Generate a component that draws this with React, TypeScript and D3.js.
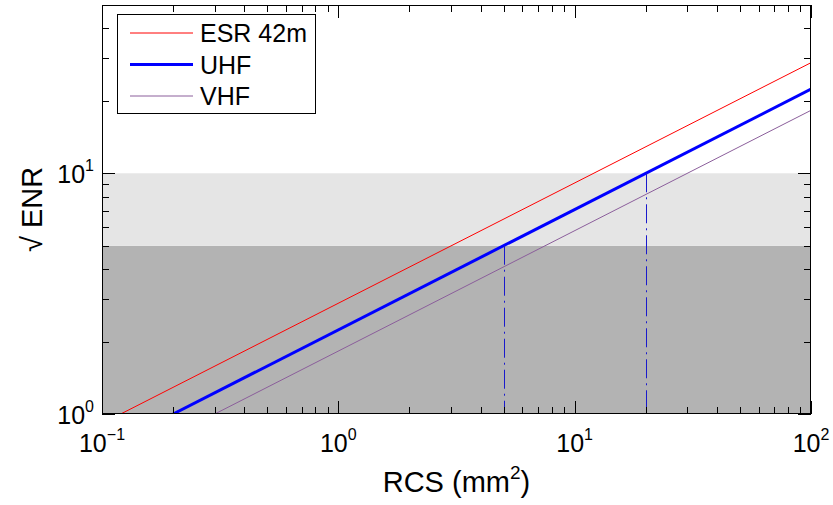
import React from "react";
import * as d3 from "d3";

const W = 833;
const H = 505;
const M = { left: 102, right: 811, top: 5, bottom: 414 };

const xDomain = [0.1, 100];
const yDomain = [1, 50];

const xMajor = [0.1, 1, 10, 100];
const xMajorExp = ["\u22121", "0", "1", "2"];
const yMajor = [1, 10];
const yMajorExp = ["0", "1"];
const minorMult = [2, 3, 4, 5, 6, 7, 8, 9];

const seriesNames = ["ESR 42m", "UHF", "VHF"];
const seriesColors = ["#ff0000", "#0000ff", "#8b5e9b"];
const seriesWidths = [1, 3, 1];
const rcsESR = [0.12, 100];
const enrESR = [1, 28.8];
const rcsUHF = [0.2, 100];
const enrUHF = [1, 22.36];
const rcsVHF = [0.3, 100];
const enrVHF = [1, 18.26];

const bandLow = [1, 5];
const bandHigh = [5, 10];
const markRcs = [5, 20];
const markEnr = [5, 10];

const FONT = "'Liberation Sans', Arial, Helvetica, sans-serif";

export default function App() {
  const x = d3.scaleLog().domain(xDomain).range([M.left, M.right]);
  const y = d3.scaleLog().domain(yDomain).range([M.bottom, M.top]);
  const line = d3
    .line<[number, number]>()
    .x((d) => x(d[0]))
    .y((d) => y(d[1]));

  const series = [
    rcsESR.map((r, i) => [r, enrESR[i]] as [number, number]),
    rcsUHF.map((r, i) => [r, enrUHF[i]] as [number, number]),
    rcsVHF.map((r, i) => [r, enrVHF[i]] as [number, number]),
  ];

  const xMinor: number[] = [];
  for (let d = 0; d < 3; d++) {
    minorMult.forEach((m) => xMinor.push(xMajor[d] * m));
  }
  const yMinor: number[] = [];
  minorMult.forEach((m) => yMinor.push(m));
  [2, 3, 4].forEach((m) => yMinor.push(10 * m));

  const MAJ = 13;
  const MIN = 7;

  const ticks: JSX.Element[] = [];
  xMinor.forEach((v, i) => {
    const px = Math.round(x(v)) + 0.5;
    ticks.push(<line key={"xb" + i} x1={px} x2={px} y1={M.bottom} y2={M.bottom - MIN} />);
    ticks.push(<line key={"xt" + i} x1={px} x2={px} y1={M.top} y2={M.top + MIN} />);
  });
  xMajor.forEach((v, i) => {
    const px = Math.round(x(v)) + 0.5;
    ticks.push(<line key={"xB" + i} x1={px} x2={px} y1={M.bottom} y2={M.bottom - MAJ} />);
    ticks.push(<line key={"xT" + i} x1={px} x2={px} y1={M.top} y2={M.top + MAJ} />);
  });
  yMinor.forEach((v, i) => {
    const py = Math.round(y(v)) + 0.5;
    ticks.push(<line key={"yl" + i} x1={M.left} x2={M.left + MIN} y1={py} y2={py} />);
    ticks.push(<line key={"yr" + i} x1={M.right} x2={M.right - MIN} y1={py} y2={py} />);
  });
  yMajor.forEach((v, i) => {
    const py = Math.round(y(v)) + 0.5;
    ticks.push(<line key={"yL" + i} x1={M.left} x2={M.left + MAJ} y1={py} y2={py} />);
    ticks.push(<line key={"yR" + i} x1={M.right} x2={M.right - MAJ} y1={py} y2={py} />);
  });

  const leg = { x: 117, y: 14, w: 198, h: 99 };

  return (
    <svg
      width={W}
      height={H}
      style={{ position: "absolute", left: 0, top: 0, background: "#fff" }}
      fontFamily={FONT}
    >
      <defs>
        <clipPath id="plot">
          <rect x={M.left} y={M.top} width={M.right - M.left} height={M.bottom - M.top} />
        </clipPath>
      </defs>
      <rect x={0} y={0} width={W} height={H} fill="#fff" />
      <rect
        x={M.left}
        y={y(bandLow[1])}
        width={M.right - M.left}
        height={y(bandLow[0]) - y(bandLow[1])}
        fill="#b3b3b3"
      />
      <rect
        x={M.left}
        y={y(bandHigh[1])}
        width={M.right - M.left}
        height={y(bandHigh[0]) - y(bandHigh[1])}
        fill="#e5e5e5"
      />
      <g clipPath="url(#plot)">
        {series.map((s, i) => (
          <path
            key={i}
            d={line(s) || ""}
            fill="none"
            stroke={seriesColors[i]}
            strokeWidth={seriesWidths[i]}
          />
        ))}
        {markRcs.map((r, i) => {
          const px = Math.round(x(r)) + 0.5;
          return (
            <line
              key={"m" + i}
              x1={px}
              x2={px}
              y1={y(markEnr[i])}
              y2={M.bottom}
              stroke="#1a1acc"
              strokeWidth={1}
              strokeDasharray="19,5,2,5"
            />
          );
        })}
      </g>
      <g stroke="#000" strokeWidth={1}>
        {ticks}
      </g>
      <rect
        x={M.left + 0.5}
        y={M.top + 0.5}
        width={M.right - M.left - 1}
        height={M.bottom - M.top - 1}
        fill="none"
        stroke="#000"
        strokeWidth={1}
      />
      {xMajor.map((v, i) => (
        <text key={"xl" + i} x={x(v)} y={452} textAnchor="middle" fontSize={25} fill="#000">
          10
          <tspan dy={-12} fontSize={16}>
            {xMajorExp[i]}
          </tspan>
        </text>
      ))}
      {yMajor.map((v, i) => (
        <text key={"yl" + i} x={94} y={y(v) + 10} textAnchor="end" fontSize={25} fill="#000">
          10
          <tspan dy={-12} fontSize={16}>
            {yMajorExp[i]}
          </tspan>
        </text>
      ))}
      <text x={(M.left + M.right) / 2} y={492} textAnchor="middle" fontSize={29} fill="#000">
        RCS (mm
        <tspan dy={-13} fontSize={19}>
          2
        </tspan>
        <tspan dy={13}>)</tspan>
      </text>
      <text
        transform={`translate(42, ${(M.top + M.bottom) / 2}) rotate(-90)`}
        textAnchor="middle"
        fontSize={29}
        fill="#000"
      >
        {"\u221A ENR"}
      </text>
      <g>
        <rect
          x={leg.x + 0.5}
          y={leg.y + 0.5}
          width={leg.w}
          height={leg.h}
          fill="#fff"
          stroke="#000"
          strokeWidth={1}
        />
        {seriesNames.map((n, i) => {
          const cy = 33 + i * 31.5;
          return (
            <g key={n}>
              <line
                x1={130}
                x2={193}
                y1={cy}
                y2={cy}
                stroke={seriesColors[i]}
                strokeWidth={seriesWidths[i]}
              />
              <text x={200} y={cy + 9} fontSize={25} fill="#000">
                {n}
              </text>
            </g>
          );
        })}
      </g>
    </svg>
  );
}
